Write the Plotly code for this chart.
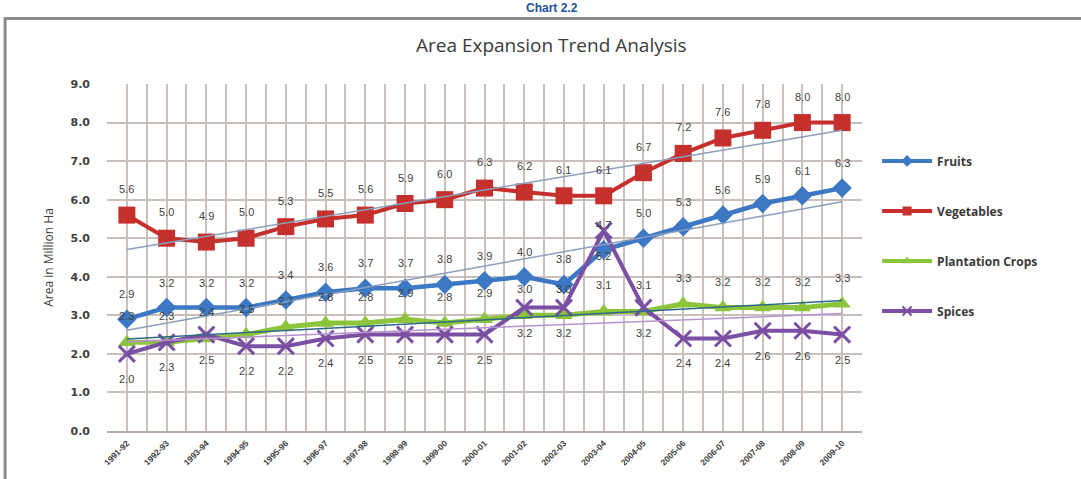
import numpy as np
import plotly.graph_objects as go

# Crop years on the category axis
years = ["1991-92", "1992-93", "1993-94", "1994-95", "1995-96", "1996-97", "1997-98",
         "1998-99", "1999-00", "2000-01", "2001-02", "2002-03", "2003-04", "2004-05",
         "2005-06", "2006-07", "2007-08", "2008-09", "2009-10"]

# Area under each crop group (million ha)
fruits = [2.9, 3.2, 3.2, 3.2, 3.4, 3.6, 3.7, 3.7, 3.8, 3.9, 4.0, 3.8, 4.7, 5.0,
          5.3, 5.6, 5.9, 6.1, 6.3]
vegetables = [5.6, 5.0, 4.9, 5.0, 5.3, 5.5, 5.6, 5.9, 6.0, 6.3, 6.2, 6.1, 6.1, 6.7,
              7.2, 7.6, 7.8, 8.0, 8.0]
plantation = [2.3, 2.3, 2.4, 2.5, 2.7, 2.8, 2.8, 2.9, 2.8, 2.9, 3.0, 3.0, 3.1, 3.1,
              3.3, 3.2, 3.2, 3.2, 3.3]
spices = [2.0, 2.3, 2.5, 2.2, 2.2, 2.4, 2.5, 2.5, 2.5, 2.5, 3.2, 3.2, 5.2, 3.2,
          2.4, 2.4, 2.6, 2.6, 2.5]

y_ticks = [0, 1, 2, 3, 4, 5, 6, 7, 8, 9]

series = [
    # name, values, colour, symbol, marker size, line width, label shift, trend colour
    ("Fruits", fruits, "#3c78c3", "diamond", 15, 4.5, 25, "#8a9fbd"),
    ("Vegetables", vegetables, "#c6302c", "square", 17, 4, 26, "#8a9fbd"),
    ("Plantation Crops", plantation, "#8cc43c", "triangle-up", 15, 5, 26, "#2e6a88"),
    ("Spices", spices, "#7b4fa3", "x-thin-open", 16, 4, -25, "#b792d0"),
]

fig = go.Figure()
label_font = dict(family="Liberation Sans", size=11, color="#404040")
annotations = []
idx = np.arange(len(years))

for name, vals, col, sym, msize, lw, shift, tcol in series:
    mline = dict(width=3, color=col) if sym.startswith("x") else dict(width=0)
    fig.add_trace(go.Scatter(
        x=years, y=vals, mode="lines+markers", name=name, showlegend=False,
        line=dict(color=col, width=lw),
        marker=dict(symbol=sym, size=msize, color=col, line=mline),
    ))
    for yr, v in zip(years, vals):
        annotations.append(dict(
            x=yr, y=v, xref="x", yref="y", text=f"{v:.1f}", showarrow=False,
            yshift=shift, font=label_font,
        ))

# Linear trend lines for each series
for name, vals, col, sym, msize, lw, shift, tcol in series:
    slope, icpt = np.polyfit(idx, vals, 1)
    fig.add_trace(go.Scatter(
        x=[years[0], years[-1]], y=[icpt, icpt + slope * idx[-1]],
        mode="lines", xaxis="x2", showlegend=False, hoverinfo="skip",
        line=dict(color=tcol, width=1.5),
    ))

# Legend entries with compact markers
for i, (name, vals, col, sym, msize, lw, shift, tcol) in enumerate(series):
    mline = dict(width=2, color=col) if sym.startswith("x") else dict(width=0)
    fig.add_trace(go.Scatter(
        x=[None], y=[None], mode="lines+markers", name=name, legendgroup=f"g{i}",
        line=dict(color=col, width=4),
        marker=dict(symbol=sym, size=9, color=col, line=mline),
    ))

# Chart number above the frame
annotations.append(dict(
    x=0.59, y=1.218, xref="paper", yref="paper", text="<b>Chart 2.2</b>",
    showarrow=False, yanchor="middle",
    font=dict(family="Liberation Sans", size=12, color="#1f4fa0"),
))

grid_col = "#cbbfbb"
fig.update_layout(
    width=1081, height=479,
    margin=dict(l=107, r=219, t=84, b=46),
    paper_bgcolor="white", plot_bgcolor="white",
    title=dict(text="Area Expansion Trend Analysis", x=0.51, xanchor="center",
               y=0.905, yanchor="middle",
               font=dict(family="Open Sans", size=19, color="#3a3a3a")),
    xaxis=dict(
        type="category", categoryorder="array", categoryarray=years,
        range=[-0.5, len(years) - 0.5], tickson="boundaries",
        showgrid=True, gridcolor=grid_col, gridwidth=1.5,
        showline=True, linecolor="#b9aaa4", linewidth=2, ticks="",
        tickangle=-45, ticklabelstandoff=2,
        tickfont=dict(family="Liberation Sans", size=8.5, color="#404040", weight="bold"),
        zeroline=False,
    ),
    xaxis2=dict(
        type="category", categoryorder="array", categoryarray=years,
        overlaying="x", anchor="y", range=[-0.5, len(years) - 0.5],
        showgrid=True, gridcolor=grid_col, gridwidth=1.5,
        showticklabels=False, ticks="", showline=False, zeroline=False,
    ),
    yaxis=dict(
        range=[0, 9], tickvals=y_ticks, tickformat=".1f",
        showgrid=True, gridcolor=grid_col, gridwidth=1.5,
        showline=False, zeroline=False, ticks="", ticklabelstandoff=16,
        tickfont=dict(family="DejaVu Sans", size=11, color="#404040", weight="bold"),
        title=dict(text="Area in Million Ha", standoff=14,
                   font=dict(family="Open Sans", size=12, color="#404040")),
    ),
    legend=dict(
        x=1.02, y=0.82, xanchor="left", yanchor="top",
        font=dict(family="Open Sans", size=12, color="#3a3a3a", weight="bold"),
        tracegroupgap=31, itemwidth=50, bgcolor="rgba(0,0,0,0)",
    ),
    annotations=annotations,
    shapes=[dict(
        type="rect", xref="paper", yref="paper",
        x0=-0.135, x1=1.35, y0=-0.2, y1=1.189,
        line=dict(color="#8c8c8c", width=3), fillcolor="rgba(0,0,0,0)", layer="below",
    )],
)

fig.write_html("out.html")
